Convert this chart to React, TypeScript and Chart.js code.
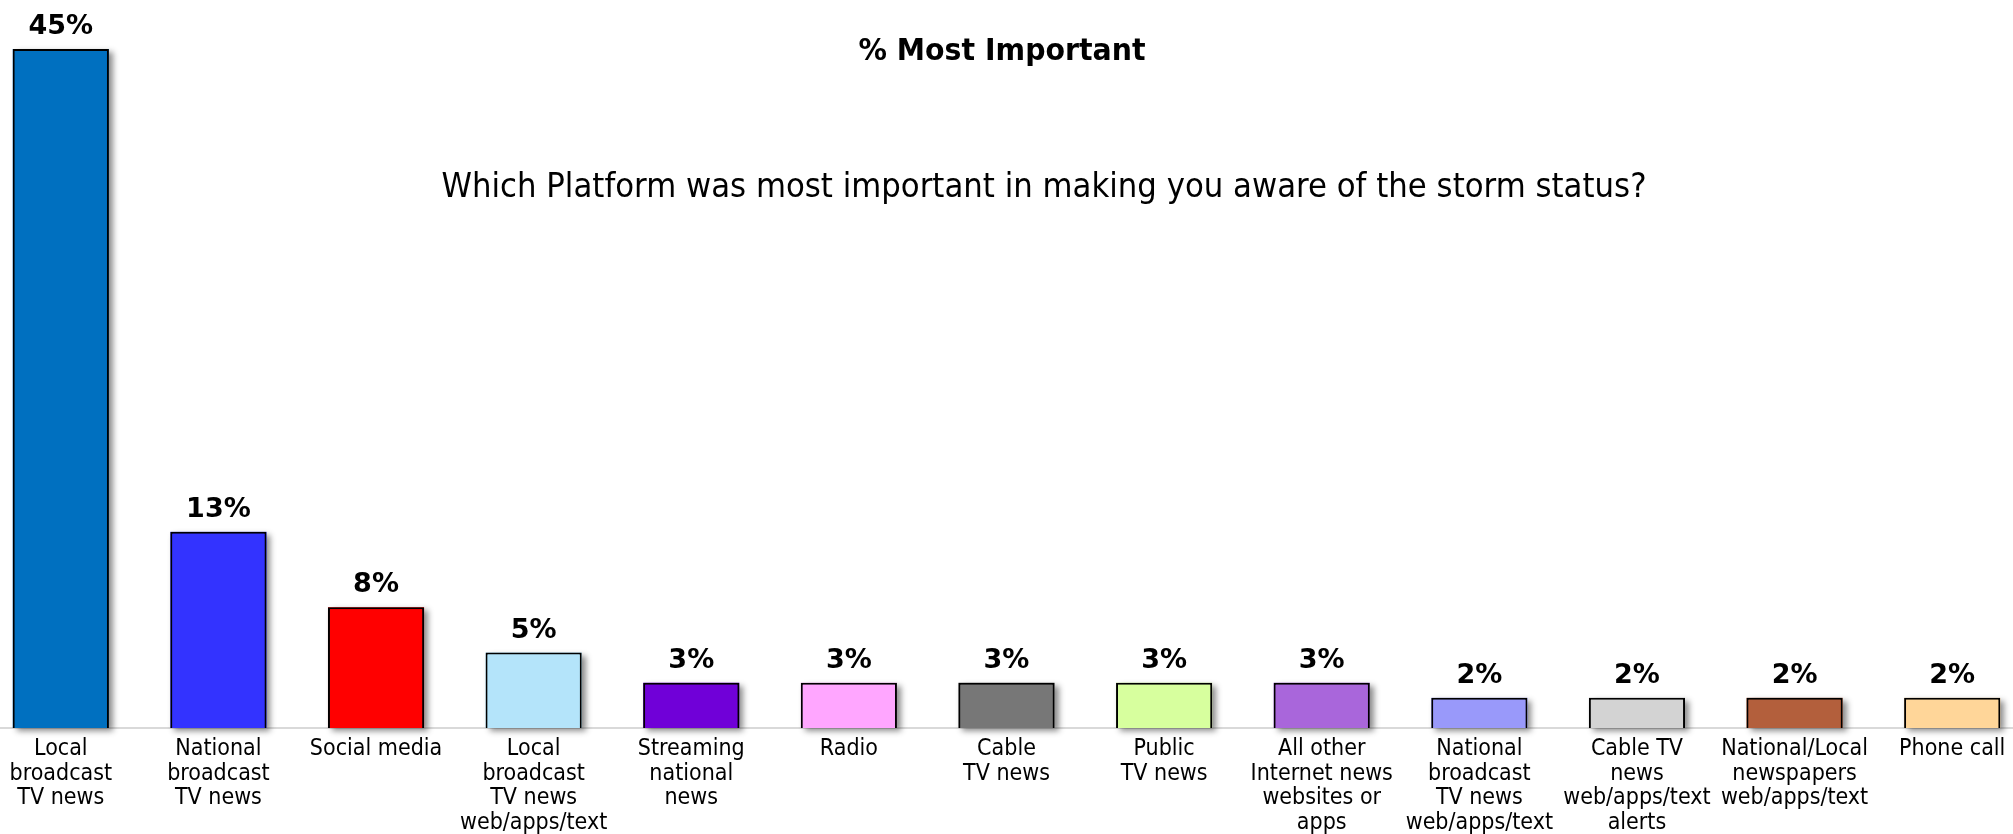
import React, { useEffect, useRef } from "react";
import { Chart, registerables } from "chart.js";

Chart.register(...registerables);

const TITLE = "% Most Important";
const SUBTITLE = "Which Platform was most important in making you aware of the storm status?";

const categories: string[][] = [
  ["Local", "broadcast", "TV news"],
  ["National", "broadcast", "TV news"],
  ["Social media"],
  ["Local", "broadcast", "TV news", "web/apps/text"],
  ["Streaming", "national", "news"],
  ["Radio"],
  ["Cable", "TV news"],
  ["Public", "TV news"],
  ["All other", "Internet news", "websites or", "apps"],
  ["National", "broadcast", "TV news", "web/apps/text"],
  ["Cable TV", "news", "web/apps/text", "alerts"],
  ["National/Local", "newspapers", "web/apps/text"],
  ["Phone call"],
];

const values = [45, 13, 8, 5, 3, 3, 3, 3, 3, 2, 2, 2, 2];

const barColors = [
  "#0070C0",
  "#3333FF",
  "#FF0000",
  "#B4E4FA",
  "#7000D8",
  "#FFA6FF",
  "#777777",
  "#D7FF9E",
  "#A966DB",
  "#9999FA",
  "#D3D3D3",
  "#B35F3C",
  "#FFD699",
];

// the plot runs a little past both page edges, as in the reference
const BLEED = 18;
const CANVAS_W = 2013 + 2 * BLEED;
const CANVAS_H = 834;

const shadowPlugin = {
  id: "barShadow",
  beforeDatasetsDraw(chart: any) {
    const ctx = chart.ctx;
    const meta = chart.getDatasetMeta(0);
    ctx.save();
    ctx.shadowColor = "rgba(0,0,0,0.45)";
    ctx.shadowBlur = 6;
    ctx.shadowOffsetX = 4;
    ctx.shadowOffsetY = 3;
    meta.data.forEach((el: any, i: number) => {
      const p = el.getProps(["x", "y", "base", "width"], true);
      ctx.fillStyle = barColors[i];
      ctx.fillRect(p.x - p.width / 2, p.y, p.width, p.base - p.y);
    });
    ctx.restore();
  },
};

const valueLabelPlugin = {
  id: "valueLabels",
  afterDatasetsDraw(chart: any) {
    const ctx = chart.ctx;
    const meta = chart.getDatasetMeta(0);
    ctx.save();
    ctx.font = 'bold 27px "DejaVu Sans"';
    ctx.fillStyle = "#000000";
    ctx.textAlign = "center";
    ctx.textBaseline = "alphabetic";
    meta.data.forEach((el: any, i: number) => {
      const p = el.getProps(["x", "y"], true);
      ctx.fillText(values[i] + "%", p.x, p.y - 15);
    });
    ctx.restore();
  },
};

const titlePlugin = {
  id: "titles",
  afterDraw(chart: any) {
    const ctx = chart.ctx;
    ctx.save();
    ctx.fillStyle = "#000000";
    ctx.textAlign = "center";
    ctx.textBaseline = "alphabetic";
    ctx.font = 'bold 30px "DejaVu Sans"';
    ctx.fillText(TITLE, 1002 + BLEED, 60, 287);
    ctx.font = '33px "DejaVu Sans"';
    ctx.fillText(SUBTITLE, 1044 + BLEED, 197, 1205);
    ctx.restore();
  },
};

export default function App() {
  const canvasRef = useRef<HTMLCanvasElement | null>(null);

  useEffect(() => {
    if (!canvasRef.current) return;
    const chart = new Chart(canvasRef.current, {
      type: "bar",
      data: {
        labels: categories,
        datasets: [
          {
            data: values,
            backgroundColor: barColors,
            borderColor: "#000000",
            borderWidth: 2,
            categoryPercentage: 1,
            barPercentage: 0.61,
          },
        ],
      },
      options: {
        responsive: false,
        animation: false,
        layout: { padding: { left: 0, right: 0, top: 49, bottom: 0 } },
        plugins: {
          legend: { display: false },
          tooltip: { enabled: false },
          title: { display: false },
        },
        scales: {
          x: {
            grid: { display: false, drawTicks: false },
            border: { display: true, color: "#d9d9d9", width: 2 },
            ticks: {
              color: "#000000",
              font: { family: '"DejaVu Sans Condensed", "DejaVu Sans"', size: 23, lineHeight: "24.5px" },
              padding: 9,
              maxRotation: 0,
              minRotation: 0,
              autoSkip: false,
            },
            afterFit(scale: any) {
              scale.height = 106;
            },
          },
          y: {
            display: false,
            min: 0,
            max: 45,
          },
        },
      },
      plugins: [shadowPlugin, valueLabelPlugin, titlePlugin],
    });
    return () => chart.destroy();
  }, []);

  return (
    <div
      style={{
        position: "absolute",
        left: 0,
        top: 0,
        width: 2013,
        height: CANVAS_H,
        overflow: "hidden",
        background: "#ffffff",
      }}
    >
      <canvas
        ref={canvasRef}
        width={CANVAS_W}
        height={CANVAS_H}
        style={{ display: "block", position: "absolute", left: -BLEED, top: 0 }}
      />
    </div>
  );
}
